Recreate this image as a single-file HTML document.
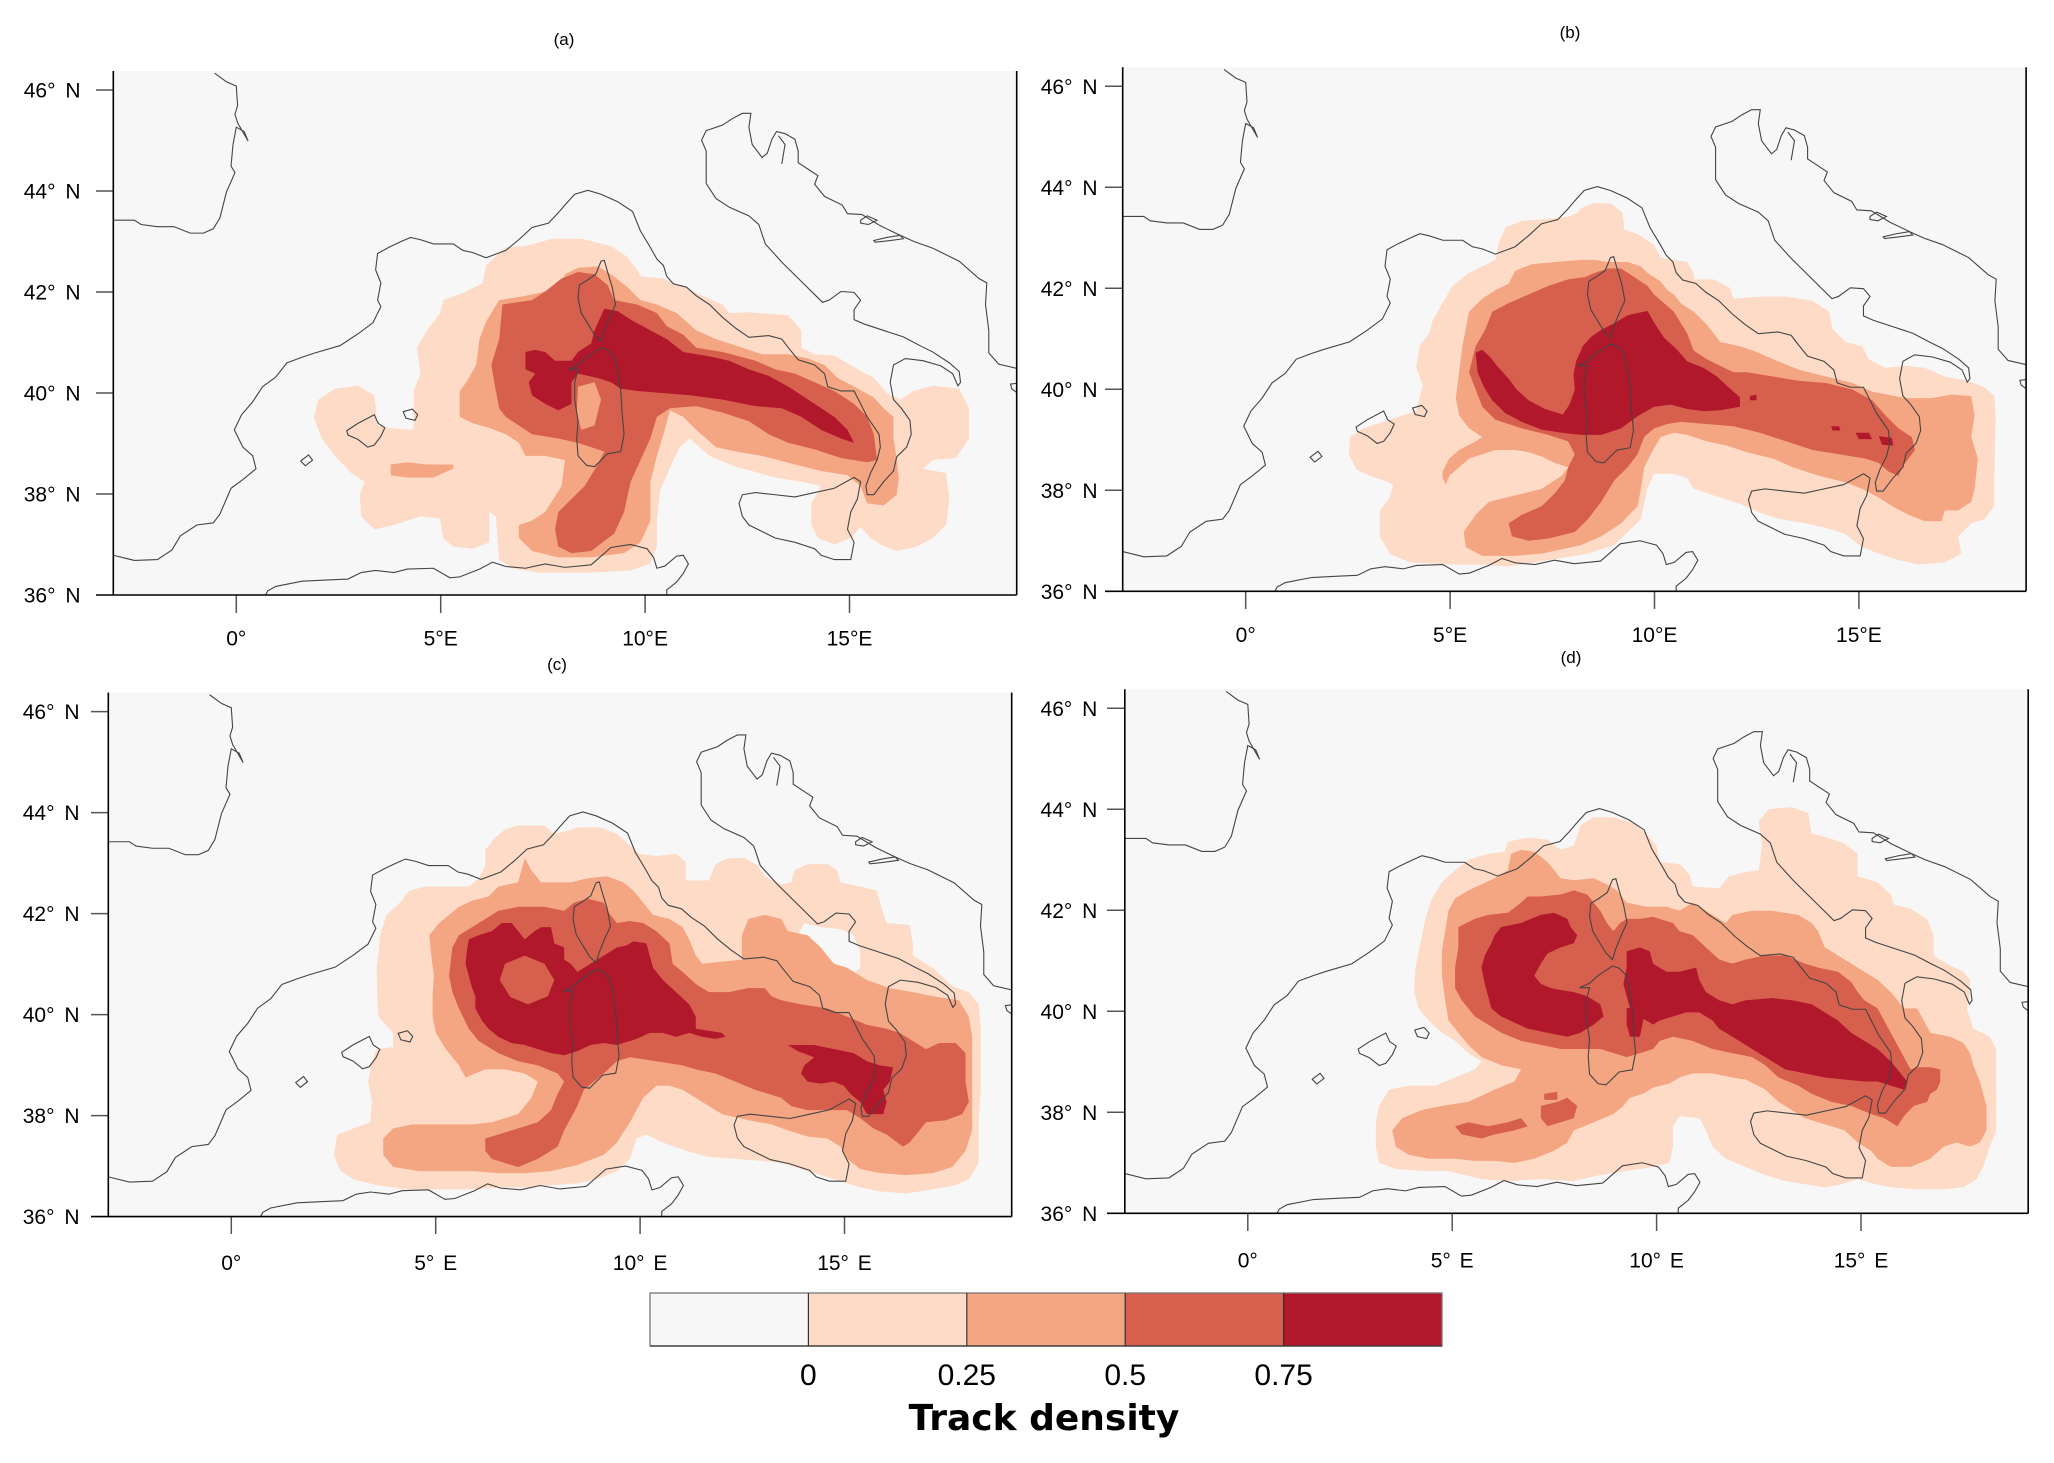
<!DOCTYPE html>
<html><head><meta charset="utf-8"><style>
html,body{margin:0;padding:0;background:#fff;}
svg{display:block;}
text{font-family:"Liberation Sans",sans-serif;fill:#000;}
.yl{font-size:21px;text-anchor:end;word-spacing:4px;}
.xl{font-size:21px;text-anchor:middle;word-spacing:3px;}
.tt{font-size:17px;text-anchor:middle;}
.cb{font-size:30px;text-anchor:middle;}
</style></head><body>
<svg width="2054" height="1463" viewBox="0 0 2054 1463" xmlns="http://www.w3.org/2000/svg">
<defs>
<clipPath id="ca"><rect x="113.3" y="71" width="903.4" height="524"/></clipPath>
<clipPath id="cbp"><rect x="1122.7" y="67.3" width="903.4" height="524"/></clipPath>
<clipPath id="cc"><rect x="108.3" y="692.6" width="903.4" height="524"/></clipPath>
<clipPath id="cd"><rect x="1124.8" y="689.3" width="903.4" height="524"/></clipPath>
<g id="coast">
<polyline vector-effect="non-scaling-stroke" fill="none" stroke="#444" stroke-width="1.1" points="327,165 345,185 360,195 362,240 358,260 362,280 378,322 372,300 360,290 355,330 352,380 358,395 345,440 335,500 325,525 310,535 290,535 265,520 240,520 215,515 205,505 150,505"/>
<polyline vector-effect="non-scaling-stroke" fill="none" stroke="#444" stroke-width="1.1" points="150,1275 173,1280 205,1292 240,1290 262,1268 275,1235 300,1210 325,1205 335,1185 352,1125 370,1105 390,1080 385,1050 370,1030 357,990 368,955 385,925 400,890 420,868 437,835 460,822 480,812 518,795 545,768 568,742 580,705 575,690 580,650 572,620 575,582 592,568 610,555 625,545 640,550 660,560 690,560 705,575 720,580 740,592 770,575 790,550 810,522 835,512 850,488 860,470 875,445 895,436 915,445 940,462 963,485 975,530 990,568 1000,595 1010,610 1015,635 1025,652 1045,660 1060,680 1080,700 1100,730 1120,755 1140,776 1170,772 1190,780 1200,800 1215,828 1240,840 1255,860 1260,890 1280,900 1300,900 1310,930 1320,960 1338,1000 1340,1030 1335,1060 1325,1090 1318,1120 1320,1140 1330,1140 1345,1110 1360,1085 1365,1052 1380,1030 1387,1000 1385,968 1372,940 1360,920 1355,880 1360,840 1378,825 1405,830 1432,842 1450,860 1458,888 1462,880 1460,855 1445,835 1420,810 1400,795 1375,775 1345,760 1315,745 1300,735 1300,712 1310,690 1300,672 1280,670 1262,690 1252,695 1222,650 1190,602 1165,560 1155,515 1140,495 1110,475 1090,455 1075,420 1075,345 1068,320 1075,298 1100,285 1115,270 1130,258 1143,258 1140,290 1145,330 1160,360 1168,350 1175,318 1182,300 1195,305 1210,318 1215,345 1215,372 1245,402 1240,422 1255,450 1282,470 1290,490 1312,492 1340,518 1370,540 1392,555 1420,570 1460,600 1490,640 1502,650 1500,700 1505,760 1505,812 1520,838 1560,852"/>
<polyline vector-effect="non-scaling-stroke" fill="none" stroke="#444" stroke-width="1.1" points="1560,880 1538,884 1540,895 1560,918"/>
<polyline vector-effect="non-scaling-stroke" fill="none" stroke="#444" stroke-width="1.1" points="1185,310 1195,330 1190,375"/>
<polyline vector-effect="non-scaling-stroke" fill="none" stroke="#444" stroke-width="1.1" points="398,1390 408,1362 420,1352 460,1340 500,1337 530,1335 550,1320 572,1315 600,1320 620,1312 660,1310 685,1332 700,1330 730,1312 750,1296 770,1306 800,1310 830,1300 860,1308 900,1302 930,1262 960,1255 985,1265 995,1285 1000,1310 1012,1305 1030,1282 1040,1280 1048,1300 1040,1322 1030,1342 1015,1360 1015,1390"/>
<polygon vector-effect="non-scaling-stroke" fill="none" stroke="#444" stroke-width="1.1" points="1130,1140 1150,1135 1180,1140 1210,1145 1240,1135 1270,1125 1300,1100 1310,1110 1305,1150 1295,1180 1290,1220 1300,1250 1295,1290 1270,1290 1250,1280 1240,1265 1210,1250 1180,1240 1160,1225 1140,1210 1130,1190 1125,1160"/>
<polygon vector-effect="non-scaling-stroke" fill="none" stroke="#444" stroke-width="1.1" points="880,850 875,880 875,920 880,970 878,1010 880,1050 893,1072 905,1075 925,1045 945,1040 950,1000 947,950 945,900 940,850 935,820 925,805 915,800 905,810 893,822 880,840 865,850"/>
<polygon vector-effect="non-scaling-stroke" fill="none" stroke="#444" stroke-width="1.1" points="920,598 925,625 932,660 937,700 928,730 920,760 915,785 905,770 895,745 885,720 880,685 882,655 893,645 907,630 915,600"/>
<polygon vector-effect="non-scaling-stroke" fill="none" stroke="#444" stroke-width="1.1" points="528,992 545,975 570,955 576,975 586,985 580,1005 570,1025 560,1030 545,1012 530,1002"/>
<polygon vector-effect="non-scaling-stroke" fill="none" stroke="#444" stroke-width="1.1" points="614,948 628,942 636,955 632,968 618,963"/>
<polygon vector-effect="non-scaling-stroke" fill="none" stroke="#444" stroke-width="1.1" points="458,1062 470,1048 476,1060 465,1073"/>
<polygon vector-effect="non-scaling-stroke" fill="none" stroke="#444" stroke-width="1.1" points="1310,505 1320,495 1335,505 1322,515 1310,512"/>
<polygon vector-effect="non-scaling-stroke" fill="none" stroke="#444" stroke-width="1.1" points="1330,552 1350,545 1370,540 1375,548 1350,553 1332,556"/>
</g>
</defs>
<rect x="0" y="0" width="2054" height="1463" fill="#fff"/>

<!-- ============ PANEL A ============ -->
<rect x="113.3" y="71" width="903.4" height="524" fill="#f7f7f7"/>
<g clip-path="url(#ca)">
<g transform="matrix(0.6572,0,0,0.4324,-0.3,1.8)">
<polygon fill="#fddbc7" points="740,610 770,568 800,565 840,548 885,548 930,565 955,590 970,620 975,635 1010,640 1040,660 1070,680 1100,700 1110,720 1140,718 1200,725 1220,760 1220,800 1240,815 1270,818 1300,845 1330,870 1350,905 1370,920 1390,900 1420,888 1460,895 1475,940 1475,1010 1455,1055 1420,1060 1405,1080 1440,1090 1445,1150 1440,1210 1420,1240 1395,1260 1365,1270 1340,1255 1325,1240 1310,1215 1295,1240 1270,1255 1245,1240 1235,1210 1235,1160 1250,1120 1220,1110 1180,1100 1120,1075 1080,1050 1050,1010 1035,1030 1025,1060 1005,1130 1000,1200 1000,1260 990,1300 960,1315 900,1320 820,1320 780,1310 760,1290 755,1190 745,1180 745,1250 720,1265 690,1260 675,1240 670,1195 640,1190 600,1210 570,1220 550,1190 548,1140 555,1110 535,1090 510,1050 490,1010 478,960 485,920 510,895 545,888 570,910 575,980 590,985 625,990 630,985 630,900 640,860 635,800 650,760 670,720 675,690 710,670 735,650"/>
<polygon fill="#f4a582" points="760,690 800,680 830,670 855,655 860,630 880,615 910,612 930,630 955,660 975,690 1000,700 1030,720 1060,760 1090,780 1130,800 1160,815 1200,815 1230,825 1255,840 1275,870 1300,890 1330,915 1345,940 1360,960 1360,1010 1365,1060 1368,1100 1365,1140 1345,1165 1320,1160 1310,1120 1290,1095 1250,1085 1210,1070 1160,1050 1120,1040 1090,1030 1060,990 1040,960 1020,945 1010,1000 1000,1050 990,1110 990,1200 975,1250 950,1275 900,1285 850,1285 810,1270 790,1240 790,1210 810,1200 830,1180 855,1120 860,1060 830,1050 800,1050 790,1020 770,1000 745,985 720,975 700,960 700,900 710,880 725,840 730,780 740,740"/>
<polygon fill="#f4a582" points="595,1070 620,1065 650,1070 690,1070 690,1080 660,1100 620,1100 595,1095"/>
<polygon fill="#d6604d" points="765,700 810,690 830,670 855,640 880,625 905,630 925,655 935,690 970,700 1000,720 1015,750 1040,770 1060,800 1100,810 1150,830 1180,850 1210,860 1240,880 1270,900 1300,930 1320,960 1330,1000 1335,1060 1320,1065 1280,1055 1240,1035 1200,1020 1170,1000 1140,970 1100,950 1060,935 1020,940 1000,960 990,1010 975,1060 960,1110 950,1180 935,1230 900,1270 870,1275 850,1260 845,1220 850,1180 870,1150 890,1120 910,1070 920,1040 880,1020 850,1010 810,1000 790,980 770,960 760,940 755,900 748,840 760,780"/>
<polygon fill="#f4a582" points="880,890 905,880 915,920 905,980 885,990 878,950"/>
<polygon fill="#b2182b" points="800,810 815,805 830,810 845,830 870,830 880,810 900,790 905,760 920,710 940,715 960,735 990,760 1015,780 1040,810 1080,820 1110,830 1140,850 1170,865 1200,890 1220,910 1240,930 1270,960 1290,990 1300,1020 1280,1010 1250,990 1220,960 1190,940 1150,935 1100,920 1050,910 1010,905 970,900 945,895 930,880 910,870 880,860 870,880 870,930 850,945 830,930 810,910 805,880 815,860 800,850"/>
</g>
<use href="#coast" transform="matrix(0.6572,0,0,0.4324,-0.3,1.8)"/>
</g>
<g stroke="#555" stroke-width="1.5">
<line x1="96" y1="90" x2="113.3" y2="90"/><line x1="96" y1="191" x2="113.3" y2="191"/><line x1="96" y1="292" x2="113.3" y2="292"/><line x1="96" y1="393" x2="113.3" y2="393"/><line x1="96" y1="494" x2="113.3" y2="494"/>
<line x1="236.3" y1="595" x2="236.3" y2="613"/><line x1="440.7" y1="595" x2="440.7" y2="613"/><line x1="645.1" y1="595" x2="645.1" y2="613"/><line x1="849.5" y1="595" x2="849.5" y2="613"/>
</g>
<g stroke="#000" stroke-width="1.6" fill="none">
<line x1="113.3" y1="71" x2="113.3" y2="595"/><line x1="96" y1="595" x2="1016.7" y2="595"/><line x1="1016.7" y1="71" x2="1016.7" y2="595"/>
</g>
<text class="yl" x="80.5" y="97.5">46° N</text><text class="yl" x="80.5" y="198.5">44° N</text><text class="yl" x="80.5" y="299.5">42° N</text><text class="yl" x="80.5" y="400.5">40° N</text><text class="yl" x="80.5" y="501.5">38° N</text><text class="yl" x="80.5" y="602.5">36° N</text>
<text class="xl" x="236.3" y="645.5">0°</text><text class="xl" x="440.7" y="645.5">5°E</text><text class="xl" x="645.1" y="645.5">10°E</text><text class="xl" x="849.5" y="645.5">15°E</text>
<text class="tt" x="564" y="45">(a)</text>

<!-- ============ PANEL B ============ -->
<rect x="1122.7" y="67.3" width="903.4" height="524" fill="#f7f7f7"/>
<g clip-path="url(#cbp)">
<g transform="matrix(0.6608,0,0,0.432,1019.7,0.7)">
<polygon fill="#fddbc7" points="850,480 870,468 895,470 912,490 915,530 935,540 960,565 970,595 990,600 1010,605 1020,630 1020,645 1050,645 1075,665 1080,690 1120,685 1160,685 1200,695 1225,720 1230,760 1250,790 1275,800 1285,830 1310,850 1340,845 1370,850 1400,870 1435,880 1460,895 1475,915 1477,960 1475,1100 1475,1170 1460,1200 1440,1210 1420,1240 1425,1280 1400,1300 1360,1305 1330,1295 1300,1280 1275,1265 1250,1235 1220,1220 1190,1210 1150,1200 1120,1185 1090,1165 1050,1145 1020,1130 1010,1105 990,1095 960,1095 950,1130 940,1200 920,1230 900,1260 860,1280 820,1290 780,1300 740,1310 700,1305 650,1305 590,1300 560,1280 545,1240 545,1180 560,1150 565,1120 550,1110 530,1100 510,1085 498,1050 500,1010 520,990 560,970 580,960 600,950 610,890 600,850 605,800 620,770 625,740 640,700 655,660 680,630 700,615 720,600 725,560 735,525 760,510 800,505 830,500 845,490"/>
<polygon fill="#f4a582" points="680,720 700,690 720,670 740,655 750,625 775,610 810,605 850,600 870,600 890,605 920,605 940,615 950,630 970,650 980,670 990,680 1000,700 1020,720 1040,750 1060,790 1090,800 1110,810 1140,830 1180,855 1220,870 1260,885 1290,905 1340,920 1380,920 1410,912 1440,915 1445,960 1440,1010 1450,1060 1445,1130 1440,1160 1420,1180 1400,1180 1395,1205 1370,1205 1345,1190 1320,1170 1300,1150 1275,1130 1250,1115 1210,1100 1170,1080 1140,1060 1100,1045 1070,1030 1040,1020 1010,1005 990,1000 970,1010 955,1050 945,1080 940,1130 935,1170 910,1210 880,1240 850,1260 820,1270 790,1280 750,1285 700,1285 675,1265 672,1230 690,1190 710,1160 750,1145 790,1130 820,1100 830,1080 810,1070 790,1055 770,1045 750,1040 720,1040 700,1050 680,1060 665,1080 650,1100 645,1120 640,1105 640,1090 650,1060 665,1040 690,1020 700,1010 680,990 665,960 660,920 665,860 670,800"/>
<polygon fill="#d6604d" points="690,800 705,760 715,720 740,700 770,680 800,660 830,645 855,640 870,630 890,620 910,620 930,640 950,660 960,680 975,700 990,720 1000,745 1010,770 1020,810 1040,830 1060,845 1080,860 1100,860 1140,870 1180,880 1220,885 1260,900 1290,925 1310,960 1330,990 1350,1010 1355,1040 1345,1060 1335,1080 1330,1100 1315,1090 1300,1070 1280,1060 1240,1050 1200,1040 1160,1020 1120,1000 1080,985 1040,980 1000,975 980,980 960,990 945,1010 935,1050 920,1080 900,1110 880,1160 860,1200 840,1230 800,1245 770,1250 745,1240 740,1210 760,1190 790,1170 810,1140 825,1110 830,1080 840,1050 830,1020 800,1005 760,990 720,970 700,940 690,900 680,860"/>
<polygon fill="#b2182b" points="690,815 700,808 712,825 725,850 740,875 752,900 770,925 795,945 822,958 832,935 840,900 838,865 842,835 852,800 865,778 880,762 898,748 920,728 950,718 960,745 975,780 995,808 1010,835 1035,850 1055,870 1075,898 1090,918 1090,940 1060,948 1035,950 1010,945 985,935 960,940 935,962 910,990 880,1005 850,1005 820,1000 790,993 760,975 735,955 715,925 702,893 693,860"/>
<polygon fill="#d6604d" points="765,830 790,825 800,850 790,870 770,865"/>
<polygon fill="#b2182b" points="1228,985 1240,985 1242,995 1230,995"/>
<polygon fill="#b2182b" points="1265,1000 1285,1000 1290,1015 1270,1015"/>
<polygon fill="#b2182b" points="1300,1008 1320,1012 1322,1030 1305,1028"/>
<polygon fill="#b2182b" points="1105,915 1115,912 1115,925 1105,925"/>
</g>
<use href="#coast" transform="matrix(0.6572,0,0,0.4324,1009.1,-1.9)"/>
</g>
<g stroke="#555" stroke-width="1.5">
<line x1="1105" y1="86.3" x2="1122.7" y2="86.3"/><line x1="1105" y1="187.3" x2="1122.7" y2="187.3"/><line x1="1105" y1="288.3" x2="1122.7" y2="288.3"/><line x1="1105" y1="389.3" x2="1122.7" y2="389.3"/><line x1="1105" y1="490.3" x2="1122.7" y2="490.3"/>
<line x1="1245.7" y1="591.3" x2="1245.7" y2="609"/><line x1="1450.1" y1="591.3" x2="1450.1" y2="609"/><line x1="1654.5" y1="591.3" x2="1654.5" y2="609"/><line x1="1858.9" y1="591.3" x2="1858.9" y2="609"/>
</g>
<g stroke="#000" stroke-width="1.6" fill="none">
<line x1="1122.7" y1="67.3" x2="1122.7" y2="591.3"/><line x1="1105" y1="591.3" x2="2026.1" y2="591.3"/><line x1="2026.1" y1="67.3" x2="2026.1" y2="591.3"/>
</g>
<text class="yl" x="1097.5" y="93.8">46° N</text><text class="yl" x="1097.5" y="194.8">44° N</text><text class="yl" x="1097.5" y="295.8">42° N</text><text class="yl" x="1097.5" y="396.8">40° N</text><text class="yl" x="1097.5" y="497.8">38° N</text><text class="yl" x="1097.5" y="598.8">36° N</text>
<text class="xl" x="1245.7" y="641.8">0°</text><text class="xl" x="1450.1" y="641.8">5°E</text><text class="xl" x="1654.5" y="641.8">10°E</text><text class="xl" x="1858.9" y="641.8">15°E</text>
<text class="tt" x="1570" y="38">(b)</text>

<!-- ============ PANEL C ============ -->
<rect x="108.3" y="692.6" width="903.4" height="524" fill="#f7f7f7"/>
<g clip-path="url(#cc)">
<g transform="matrix(0.6579,0,0,0.4066,-1.6,642.5)">
<polygon fill="#fddbc7" points="770,460 790,450 830,450 845,470 860,465 880,455 915,455 940,470 960,500 975,520 1000,525 1030,520 1045,540 1045,585 1080,585 1090,545 1110,530 1135,530 1155,550 1165,575 1190,595 1205,590 1210,560 1230,545 1260,545 1275,560 1280,590 1310,600 1335,610 1340,640 1350,690 1385,695 1390,740 1390,770 1420,800 1440,830 1450,845 1475,860 1490,890 1493,950 1493,1100 1490,1180 1490,1280 1475,1320 1455,1335 1420,1345 1380,1355 1340,1350 1310,1340 1280,1325 1250,1310 1230,1300 1210,1290 1190,1280 1160,1275 1120,1270 1080,1265 1045,1250 1010,1230 985,1210 970,1220 960,1270 940,1300 910,1320 880,1330 840,1335 800,1340 760,1340 720,1345 680,1345 620,1345 575,1335 540,1320 520,1300 510,1260 515,1210 540,1195 565,1180 568,1130 562,1080 568,1030 575,1000 600,995 600,960 578,920 576,880 575,800 578,760 580,720 590,670 610,640 625,610 650,600 690,600 715,600 730,580 740,550 740,510 755,480"/>
<polygon fill="#f7f7f7" points="1225,690 1250,700 1280,705 1300,720 1310,760 1310,800 1290,830 1270,800 1250,780 1230,760 1215,720"/>
<polygon fill="#f4a582" points="655,720 670,690 700,650 720,635 745,625 760,600 790,590 800,530 810,560 825,590 870,590 895,580 925,575 950,590 965,610 985,650 995,670 1020,680 1040,700 1050,730 1060,770 1070,790 1100,785 1130,780 1130,720 1140,680 1165,670 1190,680 1200,710 1230,720 1250,750 1270,790 1290,800 1320,830 1355,850 1390,860 1420,870 1460,880 1475,920 1480,970 1480,1050 1480,1150 1480,1200 1470,1250 1450,1290 1420,1305 1380,1310 1340,1305 1310,1295 1290,1270 1280,1240 1260,1220 1230,1215 1200,1200 1175,1185 1140,1175 1100,1160 1070,1130 1040,1100 1020,1090 1000,1090 980,1120 960,1180 940,1230 920,1260 880,1285 840,1300 800,1305 760,1305 720,1300 680,1300 640,1300 600,1290 585,1260 585,1220 600,1195 630,1185 680,1185 720,1185 750,1180 790,1160 810,1120 820,1080 800,1060 770,1050 740,1050 710,1070 700,1040 690,1020 680,1000 665,960 660,920 660,870 662,820 658,770"/>
<polygon fill="#d6604d" points="690,750 700,720 720,700 740,680 760,660 790,650 830,650 860,660 875,640 895,630 920,640 930,670 940,690 960,685 980,690 1000,710 1020,740 1025,790 1040,810 1060,840 1080,860 1110,860 1140,850 1165,850 1175,870 1190,880 1220,890 1260,900 1290,920 1320,940 1350,950 1370,960 1390,980 1410,1000 1430,985 1455,985 1470,1010 1470,1080 1475,1130 1465,1160 1440,1175 1410,1180 1400,1200 1385,1230 1375,1240 1350,1210 1330,1195 1310,1170 1290,1150 1260,1150 1230,1150 1205,1140 1190,1120 1150,1100 1120,1080 1090,1060 1060,1050 1040,1040 1000,1030 960,1020 940,1030 920,1060 890,1100 880,1140 860,1200 850,1240 820,1270 790,1290 770,1280 750,1270 740,1250 740,1220 760,1210 790,1195 820,1180 840,1150 850,1110 860,1080 850,1060 820,1040 790,1030 760,1010 730,980 715,950 700,900 690,860 685,820"/>
<polygon fill="#b2182b" points="715,730 730,720 750,710 765,690 780,690 790,710 800,730 815,710 825,700 840,700 845,740 860,750 860,780 870,790 880,810 900,790 920,770 940,750 955,745 965,735 985,740 990,770 995,800 1010,830 1030,860 1050,890 1060,920 1060,950 1080,955 1100,960 1105,970 1090,975 1070,970 1050,960 1030,970 1010,960 990,960 970,975 950,985 940,990 920,985 900,990 880,1005 860,1015 840,1010 820,1000 800,990 780,985 760,970 745,950 735,930 725,900 725,870 720,850 715,820 710,790 712,760"/>
<polygon fill="#d6604d" points="770,790 800,770 830,790 845,830 835,870 805,890 778,872 762,830"/>
<polygon fill="#b2182b" points="1200,990 1240,990 1270,1000 1300,1010 1320,1030 1340,1040 1360,1045 1355,1080 1345,1100 1350,1130 1345,1160 1320,1160 1310,1130 1295,1110 1285,1090 1270,1080 1250,1085 1230,1080 1220,1060 1225,1040 1240,1020 1215,1005"/>
</g>
<use href="#coast" transform="matrix(0.6572,0,0,0.4324,-5.3,623.4)"/>
</g>
<g stroke="#555" stroke-width="1.5">
<line x1="91" y1="711.6" x2="108.3" y2="711.6"/><line x1="91" y1="812.6" x2="108.3" y2="812.6"/><line x1="91" y1="913.6" x2="108.3" y2="913.6"/><line x1="91" y1="1014.6" x2="108.3" y2="1014.6"/><line x1="91" y1="1115.6" x2="108.3" y2="1115.6"/>
<line x1="231.3" y1="1216.6" x2="231.3" y2="1234"/><line x1="435.7" y1="1216.6" x2="435.7" y2="1234"/><line x1="640.1" y1="1216.6" x2="640.1" y2="1234"/><line x1="844.5" y1="1216.6" x2="844.5" y2="1234"/>
</g>
<g stroke="#000" stroke-width="1.6" fill="none">
<line x1="108.3" y1="692.6" x2="108.3" y2="1216.6"/><line x1="91" y1="1216.6" x2="1011.7" y2="1216.6"/><line x1="1011.7" y1="692.6" x2="1011.7" y2="1216.6"/>
</g>
<text class="yl" x="79.5" y="719.1">46° N</text><text class="yl" x="79.5" y="820.1">44° N</text><text class="yl" x="79.5" y="921.1">42° N</text><text class="yl" x="79.5" y="1022.1">40° N</text><text class="yl" x="79.5" y="1123.1">38° N</text><text class="yl" x="79.5" y="1224.1">36° N</text>
<text class="xl" x="231.3" y="1270">0°</text><text class="xl" x="435.7" y="1270">5° E</text><text class="xl" x="640.1" y="1270">10° E</text><text class="xl" x="844.5" y="1270">15° E</text>
<text class="tt" x="557" y="670">(c)</text>

<!-- ============ PANEL D ============ -->
<rect x="1124.8" y="689.3" width="903.4" height="524" fill="#f7f7f7"/>
<g clip-path="url(#cd)">
<g transform="matrix(0.6601,0,0,0.4066,1019.4,642.4)">
<polygon fill="#fddbc7" points="740,490 770,480 800,485 820,510 840,500 850,450 870,430 900,430 930,445 950,470 965,500 970,540 1000,545 1015,570 1020,600 1060,605 1075,575 1100,565 1120,560 1125,500 1120,440 1135,410 1170,405 1195,420 1200,470 1225,480 1250,495 1270,520 1270,575 1300,590 1320,620 1325,645 1350,655 1375,680 1385,720 1385,770 1405,790 1430,810 1440,830 1440,870 1435,900 1445,950 1470,970 1480,1000 1480,1100 1480,1200 1470,1240 1460,1290 1450,1320 1430,1340 1400,1345 1360,1345 1320,1340 1290,1330 1270,1320 1240,1335 1220,1340 1200,1335 1180,1330 1160,1325 1130,1310 1100,1290 1070,1270 1050,1240 1040,1200 1030,1170 1000,1165 990,1190 990,1240 985,1280 960,1290 920,1300 880,1310 840,1325 790,1320 740,1325 700,1320 650,1300 610,1300 570,1295 545,1280 540,1240 540,1180 545,1140 560,1100 590,1090 630,1090 660,1070 690,1050 700,1030 680,1010 660,980 640,960 620,930 605,900 598,860 600,800 605,760 610,720 615,680 625,630 640,590 660,560 680,535 710,520 735,515"/>
<polygon fill="#f4a582" points="650,660 660,630 680,610 700,595 720,580 740,560 745,520 760,510 780,515 800,540 820,580 840,585 870,580 890,595 905,610 920,640 950,650 980,650 1000,660 1010,650 1020,640 1040,660 1060,680 1070,690 1080,670 1110,660 1140,660 1180,670 1200,690 1210,710 1220,750 1240,770 1260,790 1280,810 1300,830 1320,860 1330,880 1340,900 1360,900 1370,930 1380,960 1410,970 1430,985 1440,1010 1445,1040 1455,1080 1465,1140 1465,1200 1455,1230 1440,1240 1420,1230 1400,1240 1380,1270 1350,1290 1320,1290 1300,1270 1290,1250 1270,1230 1250,1200 1230,1190 1210,1180 1190,1170 1170,1150 1150,1130 1130,1100 1100,1075 1080,1070 1050,1060 1020,1060 1000,1070 985,1085 960,1095 945,1110 925,1120 915,1140 900,1160 870,1180 840,1200 830,1230 810,1250 780,1270 750,1280 720,1275 690,1275 660,1270 620,1270 590,1260 570,1240 565,1200 580,1170 610,1150 640,1140 680,1130 720,1100 750,1080 760,1050 730,1040 700,1020 680,990 665,960 650,930 645,880 640,820 640,760 645,710"/>
<polygon fill="#d6604d" points="665,700 690,680 710,670 740,665 760,640 770,625 790,625 820,620 840,610 860,620 870,640 880,660 890,690 900,710 910,690 920,680 940,680 960,675 990,690 1000,710 1020,720 1040,750 1060,780 1080,790 1100,780 1130,770 1160,770 1190,790 1210,800 1240,810 1260,835 1270,860 1280,880 1300,900 1310,930 1320,960 1330,990 1340,1020 1350,1050 1360,1045 1380,1045 1395,1050 1395,1080 1390,1100 1380,1110 1375,1130 1355,1140 1340,1165 1330,1190 1310,1170 1290,1160 1260,1140 1230,1130 1200,1110 1180,1090 1150,1070 1130,1040 1110,1020 1080,1010 1050,1000 1020,980 990,970 970,980 960,1000 940,1010 920,1020 900,1010 880,1000 860,1000 840,1000 820,1000 790,990 760,980 730,960 710,940 690,920 670,880 660,850 660,800 665,750"/>
<polygon fill="#d6604d" points="660,1190 680,1180 710,1190 740,1180 760,1170 770,1190 750,1200 720,1210 700,1220 670,1210"/>
<polygon fill="#d6604d" points="790,1140 815,1130 830,1120 845,1140 840,1170 820,1180 800,1190 790,1170"/>
<polygon fill="#d6604d" points="795,1110 815,1105 815,1125 795,1125"/>
<polygon fill="#b2182b" points="730,700 760,690 790,670 810,665 830,680 835,700 845,720 840,740 820,750 800,765 790,790 780,820 790,840 805,850 820,855 840,860 860,870 880,890 885,920 870,940 850,960 830,970 800,960 770,950 750,935 730,920 715,900 710,870 705,840 700,800 705,770 715,740 720,720"/>
<polygon fill="#b2182b" points="920,760 940,750 955,760 960,790 980,810 1000,810 1025,800 1030,830 1040,860 1060,880 1080,890 1100,880 1140,875 1170,880 1200,890 1220,910 1240,930 1260,960 1280,980 1300,1000 1320,1030 1330,1050 1345,1080 1340,1100 1320,1090 1300,1080 1280,1080 1250,1075 1220,1070 1190,1060 1160,1050 1140,1030 1120,1010 1100,990 1080,970 1060,950 1050,930 1030,910 1010,910 990,920 970,930 960,940 950,930 935,920 925,900 920,870 915,840 920,800"/>
<polygon fill="#b2182b" points="920,900 940,895 945,930 940,970 925,970 920,940"/>
</g>
<use href="#coast" transform="matrix(0.6572,0,0,0.4324,1011.2,620.1)"/>
</g>
<g stroke="#555" stroke-width="1.5">
<line x1="1107" y1="708.3" x2="1124.8" y2="708.3"/><line x1="1107" y1="809.3" x2="1124.8" y2="809.3"/><line x1="1107" y1="910.3" x2="1124.8" y2="910.3"/><line x1="1107" y1="1011.3" x2="1124.8" y2="1011.3"/><line x1="1107" y1="1112.3" x2="1124.8" y2="1112.3"/>
<line x1="1247.8" y1="1213.3" x2="1247.8" y2="1231"/><line x1="1452.2" y1="1213.3" x2="1452.2" y2="1231"/><line x1="1656.6" y1="1213.3" x2="1656.6" y2="1231"/><line x1="1861" y1="1213.3" x2="1861" y2="1231"/>
</g>
<g stroke="#000" stroke-width="1.6" fill="none">
<line x1="1124.8" y1="689.3" x2="1124.8" y2="1213.3"/><line x1="1107" y1="1213.3" x2="2028.2" y2="1213.3"/><line x1="2028.2" y1="689.3" x2="2028.2" y2="1213.3"/>
</g>
<text class="yl" x="1097.3" y="715.8">46° N</text><text class="yl" x="1097.3" y="816.8">44° N</text><text class="yl" x="1097.3" y="917.8">42° N</text><text class="yl" x="1097.3" y="1018.8">40° N</text><text class="yl" x="1097.3" y="1119.8">38° N</text><text class="yl" x="1097.3" y="1220.8">36° N</text>
<text class="xl" x="1247.8" y="1267.7">0°</text><text class="xl" x="1452.2" y="1267.7">5° E</text><text class="xl" x="1656.6" y="1267.7">10° E</text><text class="xl" x="1861" y="1267.7">15° E</text>
<text class="tt" x="1571" y="663">(d)</text>

<!-- ============ COLORBAR ============ -->
<rect x="650" y="1293" width="158.4" height="53" fill="#f7f7f7"/>
<rect x="808.4" y="1293" width="158.4" height="53" fill="#fddbc7"/>
<rect x="966.8" y="1293" width="158.4" height="53" fill="#f4a582"/>
<rect x="1125.2" y="1293" width="158.4" height="53" fill="#d6604d"/>
<rect x="1283.6" y="1293" width="158.4" height="53" fill="#b2182b"/>
<rect x="650" y="1293" width="792" height="53" fill="none" stroke="#777" stroke-width="1.3"/>
<g stroke="#333" stroke-width="1.2">
<line x1="808.4" y1="1293" x2="808.4" y2="1346"/><line x1="966.8" y1="1293" x2="966.8" y2="1346"/><line x1="1125.2" y1="1293" x2="1125.2" y2="1346"/><line x1="1283.6" y1="1293" x2="1283.6" y2="1346"/>
<line x1="650" y1="1346" x2="1442" y2="1346"/>
</g>
<text class="cb" x="808.4" y="1385">0</text>
<text class="cb" x="966.8" y="1385">0.25</text>
<text class="cb" x="1125.2" y="1385">0.5</text>
<text class="cb" x="1283.6" y="1385">0.75</text>
<text x="1044" y="1430" style="font-family:'DejaVu Sans',sans-serif;font-weight:bold;font-size:36px;text-anchor:middle;">Track density</text>
</svg>
</body></html>
